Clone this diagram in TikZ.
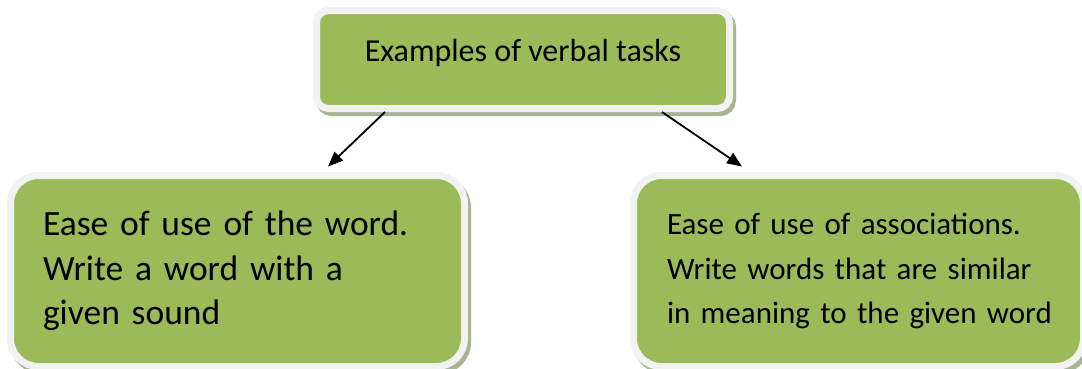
\documentclass[tikz,border=0pt]{standalone}
\usepackage{fontspec}
\setmainfont{Carlito}
\usetikzlibrary{arrows.meta,shadows}
\definecolor{boxgreen}{HTML}{9BBB59}
\definecolor{boxrim}{HTML}{F2F2F2}
\definecolor{boxshade}{HTML}{A8B592}
\begin{document}
\begin{tikzpicture}[x=1pt,y=-1pt,
	box/.style={rectangle,fill=boxgreen,draw=boxrim,line width=7pt,inner sep=0pt,
		drop shadow={shadow xshift=3pt,shadow yshift=-4pt,draw=boxshade,fill=boxshade,line width=7pt,opacity=1}},
	arr/.style={line width=1.8pt,-{Triangle[length=15pt,width=12pt]}}]
	\useasboundingbox (0,0) rectangle (1082,368);
	\node (head) [box,rounded corners=12pt,minimum width=413pt,minimum height=98pt,
		text height=12pt,text depth=9pt,font=\fontsize{32}{38}\selectfont] at (523,59.5) {Examples of verbal tasks};
	\node (word) [box,rounded corners=28pt,minimum width=454pt,minimum height=191pt,
		text width=389pt,align=left,font=\fontsize{35.5}{44.5}\selectfont] at (237.5,271)
		{\mbox{Ease of use of the word.}\\\mbox{Write a word with a}\\\mbox{given sound}};
	\node (assoc) [box,rounded corners=28pt,minimum width=450pt,minimum height=191pt,
		text width=383pt,align=left,font=\fontsize{31}{44.5}\selectfont] at (858.5,271)
		{\mbox{Ease of use of associations.}\\\mbox{Write words that are similar}\\\mbox{in meaning to the given word}};
	\draw [arr] ([xshift=-138pt]head.south) -- ([xshift=90.5pt,yshift=5.5pt]word.north);
	\draw [arr] ([xshift=139pt]head.south) -- ([xshift=-116.5pt,yshift=5.5pt]assoc.north);
\end{tikzpicture}
\end{document}
